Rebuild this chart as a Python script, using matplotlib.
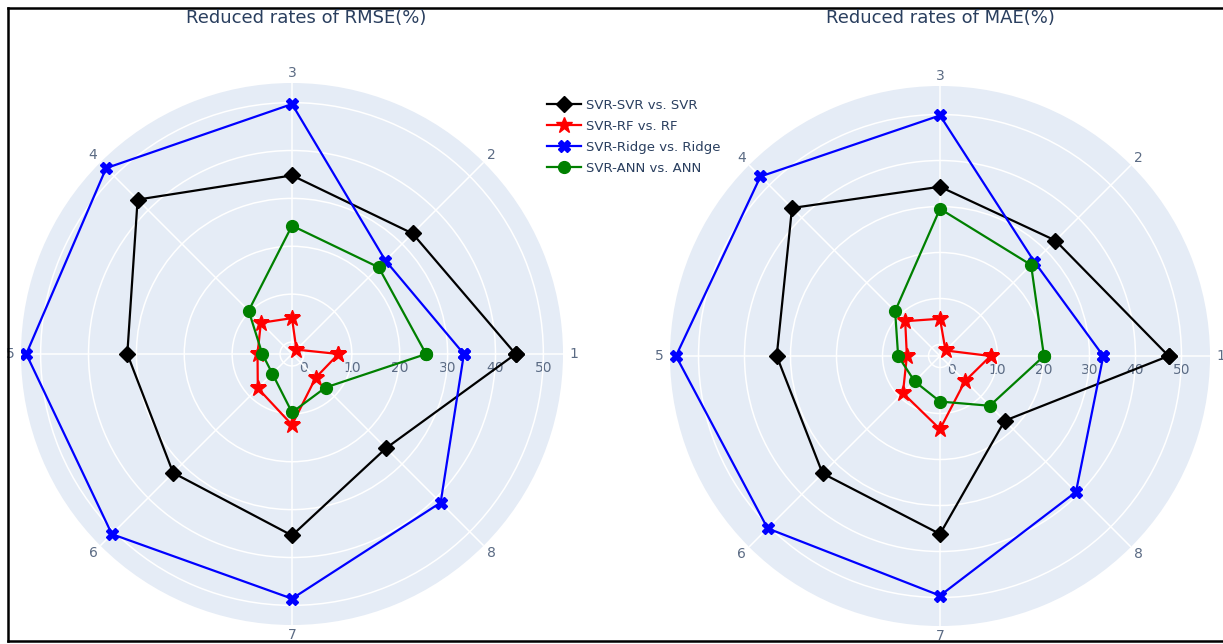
import numpy as np
import matplotlib.pyplot as plt
from matplotlib.lines import Line2D

categories = ["1", "2", "3", "4", "5", "6", "7", "8"]
series_names = ["SVR-SVR vs. SVR", "SVR-RF vs. RF", "SVR-Ridge vs. Ridge", "SVR-ANN vs. ANN"]

# reduced rates of RMSE (%)
rmse_svr = [44.2, 33.1, 34.8, 43.1, 31.9, 32.6, 35.4, 25.3]
rmse_rf = [7.2, -1.2, 5.0, 6.7, 4.7, 7.6, 12.3, 4.5]
rmse_ridge = [33.4, 25.1, 49.7, 52.4, 53.0, 50.7, 48.6, 41.4]
rmse_ann = [25.5, 23.1, 24.3, 10.3, 3.7, 3.3, 9.7, 7.4]

# reduced rates of MAE (%)
mae_svr = [47.2, 33.0, 34.3, 43.0, 33.0, 33.6, 36.2, 17.4]
mae_rf = [8.5, -0.8, 5.6, 8.2, 4.7, 8.9, 13.4, 5.2]
mae_ridge = [33.0, 26.5, 49.8, 52.7, 54.9, 50.5, 49.6, 39.3]
mae_ann = [20.1, 25.5, 29.5, 11.3, 6.6, 5.3, 7.4, 12.8]

radial_ticks = [0, 10, 20, 30, 40, 50]

colors = ["black", "red", "blue", "green"]
markers = ["D", "*", "X", "o"]
msizes = [8, 12, 9, 8.5]

BG = "#E5ECF6"
TXT = "#2a3f5f"
TICK = "#5b6b84"

fig = plt.figure(figsize=(12.23, 6.44), dpi=100)
fig.patch.set_facecolor("white")

theta = np.deg2rad(np.arange(len(categories)) * 45.0)
theta_closed = np.append(theta, theta[0])


def radar(rect, title, title_x, data, rmax):
    ax = fig.add_axes(rect, projection="polar")
    ax.set_facecolor(BG)
    ax.spines["polar"].set_visible(False)
    ax.set_ylim(-2.5, rmax)
    ax.set_yticks(radial_ticks)
    ax.set_yticklabels([])
    ax.set_xticks(theta)
    ax.set_xticklabels(categories, color=TICK, fontsize=10)
    ax.tick_params(axis="x", pad=-3)
    ax.grid(True, color="white", linewidth=1.1)
    for v in radial_ticks:
        ax.annotate(str(v), xy=(0, v), xytext=(0, -10), textcoords="offset points",
                    ha="center", va="center", fontsize=10, color=TICK, zorder=1)
    for vals, c, m, ms, name in zip(data, colors, markers, msizes, series_names):
        r = np.append(vals, vals[0])
        ax.plot(theta_closed, r, color=c, marker=m, markersize=ms, linewidth=1.6,
                label=name, zorder=3)
    fig.text(title_x / 1223, 1 - 18 / 644, title, ha="center", va="center",
             fontsize=13, color=TXT)
    return ax


ax1 = radar([21 / 1223, 19 / 644, 542 / 1223, 542 / 644], "Reduced rates of RMSE(%)", 306,
            [rmse_svr, rmse_rf, rmse_ridge, rmse_ann], 54.1)
ax2 = radar([670 / 1223, 18 / 644, 540 / 1223, 540 / 644], "Reduced rates of MAE(%)", 940,
            [mae_svr, mae_rf, mae_ridge, mae_ann], 56.2)

handles, labels = ax1.get_legend_handles_labels()
leg = fig.legend(handles, labels, loc="upper left", bbox_to_anchor=(535 / 1223, 1 - 87 / 644),
                 frameon=False, fontsize=9.5, handlelength=2.6, labelspacing=0.6,
                 handletextpad=0.4)
for t in leg.get_texts():
    t.set_color(TXT)

# frame around the figure
for xs, ys in [([8, 1223], [636, 636]), ([8, 8], [3, 636]), ([8, 1223], [3, 3])]:
    fig.add_artist(Line2D([x / 1223 for x in xs], [y / 644 for y in ys],
                          transform=fig.transFigure, color="black", linewidth=1.8))

fig.savefig("out.png", dpi=100)
